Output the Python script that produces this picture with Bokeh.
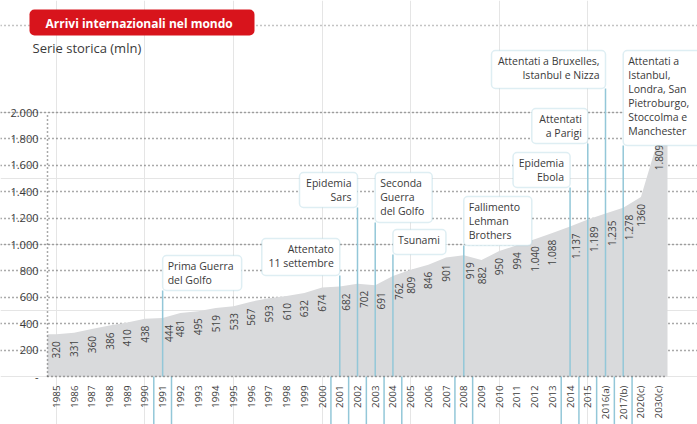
from math import pi
from bokeh.plotting import figure
from bokeh.models import (LinearAxis, FixedTicker, Grid, BoxAnnotation, Label, Span,
                          ColumnDataSource, Range1d)
from bokeh.embed import file_html
from bokeh.resources import INLINE
from bokeh.core.properties import value

# ---------------- data ----------------
categories = ["1985", "1986", "1987", "1988", "1989", "1990", "1991", "1992", "1993",
              "1994", "1995", "1996", "1997", "1998", "1999", "2000", "2001", "2002",
              "2003", "2004", "2005", "2006", "2007", "2008", "2009", "2010", "2011",
              "2012", "2013", "2014", "2015", "2016(a)", "2017(b)", "2020(c)", "2030(c)"]
arrivals = [320, 331, 360, 386, 410, 438, 444, 481, 495, 519, 533, 567, 593, 610, 632,
            674, 682, 702, 691, 762, 809, 846, 901, 919, 882, 950, 994, 1040, 1088,
            1137, 1189, 1235, 1278, 1360, 1809]
value_labels = ["320", "331", "360", "386", "410", "438", "444", "481", "495", "519",
                "533", "567", "593", "610", "632", "674", "682", "702", "691", "762",
                "809", "846", "901", "919", "882", "950", "994", "1.040", "1.088",
                "1.137", "1.189", "1.235", "1.278", "1360", "1.809"]
y_ticks = [0, 200, 400, 600, 800, 1000, 1200, 1400, 1600, 1800, 2000]
y_tick_labels = ["-", "200", "400", "600", "800", "1.000", "1.200", "1.400", "1.600",
                 "1.800", "2.000"]
event_years = ["1991", "2001", "2002", "2003", "2004", "2008", "2014", "2015",
               "2016(a)", "2017(b)"]
event_texts = ["Prima Guerra\ndel Golfo", "Attentato\n11 settembre", "Epidemia\nSars",
               "Seconda\nGuerra\ndel Golfo", "Tsunami", "Fallimento\nLehman\nBrothers",
               "Epidemia\nEbola", "Attentati\na Parigi",
               "Attentati a Bruxelles,\nIstanbul e Nizza",
               "Attentati a\nIstanbul,\nLondra, San\nPietroburgo,\nStoccolma e\nManchester"]
title_text = "Arrivi internazionali nel mondo"
subtitle_text = "Serie storica (mln)"

# ---------------- layout (canvas pixels) ----------------
W, H = 697, 424
LEFT_PX, RIGHT_PX = 47, 667        # chart area horizontal extent
ZERO_PX, TOP_PX = 376, 112         # y=0 and y=2000
n = len(categories)
CW = (RIGHT_PX - LEFT_PX) / n
KY = (ZERO_PX - TOP_PX) / 2000.0

def px2x(cx):
    return -0.5 + (cx - LEFT_PX) / CW

def px2y(cy):
    return (ZERO_PX - cy) / KY

FONT = "Open Sans"
TXT = "#3a3a3a"
BLUE = "#93c7d8"

p = figure(width=W, height=H, x_range=Range1d(px2x(0), px2x(W)),
           y_range=Range1d(px2y(H), px2y(0)), output_backend="svg",
           toolbar_location=None, x_axis_location=None, y_axis_location=None,
           min_border=0, outline_line_color=None, background_fill_color="white")

# grid
grid = Grid(dimension=1, ticker=FixedTicker(ticks=y_ticks[1:]), bounds=(-0.5, n - 0.5),
            grid_line_color="#555555", grid_line_dash="1 3", grid_line_width=1.5)
p.add_layout(grid)

# area
xs = list(range(n))
area_x = [-0.5] + xs + [n - 0.5]
area_y = [arrivals[0]] + arrivals + [arrivals[-1]]
p.varea(x=area_x, y1=0, y2=area_y, fill_color="#d9dadc")

# value labels (nudged right of the event lines where they would overlap)
label_dx = [6 if c in event_years else 0 for c in categories]
src = ColumnDataSource(dict(x=xs, y=arrivals, t=value_labels, dx=label_dx))
p.text(x="x", y="y", text="t", source=src, angle=pi / 2, text_align="right",
       text_baseline="middle", x_offset="dx", y_offset=7, text_font=value(FONT),
       text_font_size="10px", text_color="#444444")

# event layout: anchor side, box width px, top px, bottom px
box_layout = [("left", 79, 255, 290), ("right", 78, 238, 275), ("right", 58, 172, 207),
              ("left", 57, 172, 222), ("left", 53, 229, 254), ("left", 68, 196, 245),
              ("right", 57, 152, 187), ("right", 56, 108, 143), ("right", 114, 50, 88),
              ("left", 80, 50, 145)]

seg_x, seg_y0, seg_y1 = [], [], []
bracket = set()
for yr, (side, wpx, tpx, bpx) in zip(event_years, box_layout):
    i = categories.index(yr)
    seg_x.append(i)
    seg_y0.append(0)
    seg_y1.append(px2y(bpx))
    bracket.add(i - 0.5)
    bracket.add(i + 0.5)
bx = sorted(bracket)
p.segment(x0=seg_x, y0=seg_y0, x1=seg_x, y1=seg_y1, line_color=BLUE, line_width=1.5)
p.segment(x0=bx, y0=[0] * len(bx), x1=bx, y1=[px2y(H)] * len(bx), line_color=BLUE,
          line_width=1.5)

# axes
xaxis = LinearAxis(ticker=FixedTicker(ticks=xs),
                   major_label_overrides={i: c for i, c in enumerate(categories)},
                   major_label_orientation=pi / 2, fixed_location=0,
                   bounds=(-0.5, n - 0.5), axis_line_color="#555555",
                   axis_line_dash="1 3", axis_line_width=1.5,
                   major_tick_line_color=None, minor_tick_line_color=None,
                   major_tick_out=0, major_tick_in=0,
                   major_label_standoff=9, major_label_text_font=FONT,
                   major_label_text_font_size="9.8px", major_label_text_color=TXT)
p.add_layout(xaxis, "below")
yaxis = LinearAxis(ticker=FixedTicker(ticks=y_ticks),
                   major_label_overrides={t: s for t, s in zip(y_ticks, y_tick_labels)},
                   fixed_location=-0.5, bounds=(0, 2000), axis_line_color="#555555",
                   axis_line_dash="1 3", axis_line_width=1.5,
                   major_tick_line_color=None, minor_tick_line_color=None,
                   major_tick_out=0, major_tick_in=0,
                   major_label_standoff=9, major_label_text_font=FONT,
                   major_label_text_font_size="11px", major_label_text_color=TXT)
p.add_layout(yaxis, "left")

# event boxes
for yr, txt, (side, wpx, tpx, bpx) in zip(event_years, event_texts, box_layout):
    i = categories.index(yr)
    if side == "left":
        l, r = i, i + wpx / CW
        tx, al = i + 5 / CW, "left"
    else:
        l, r = i - wpx / CW, i
        tx, al = i - 6 / CW, "right"
    p.add_layout(BoxAnnotation(left=l, right=r, top=px2y(tpx), bottom=px2y(bpx),
                               fill_color="white", fill_alpha=1, line_color=BLUE,
                               line_width=1.5, border_radius=4))
    p.add_layout(Label(x=tx, y=px2y(tpx + 3), text=txt, text_align=al,
                       text_baseline="top", text_font=FONT, text_font_size="10.5px",
                       text_color=TXT, text_line_height=1.0))

# title
p.add_layout(Span(location=px2y(25), dimension="width", line_color="#888888",
                  line_dash="1 3", line_width=1.5))
p.add_layout(BoxAnnotation(left=px2x(29), right=px2x(254), top=px2y(9), bottom=px2y(35),
                           fill_color="#d8141c", fill_alpha=1, line_color=None,
                           border_radius=5))
p.add_layout(Label(x=px2x(45), y=px2y(23), text=title_text, text_align="left",
                   text_baseline="middle", text_font=FONT, text_font_style="bold",
                   text_font_size="12px", text_color="white"))
p.add_layout(Label(x=px2x(32), y=px2y(47), text=subtitle_text, text_align="left",
                   text_baseline="middle", text_font=FONT, text_font_size="13px",
                   text_color=TXT))

open("out.html", "w").write(file_html(p, INLINE))
